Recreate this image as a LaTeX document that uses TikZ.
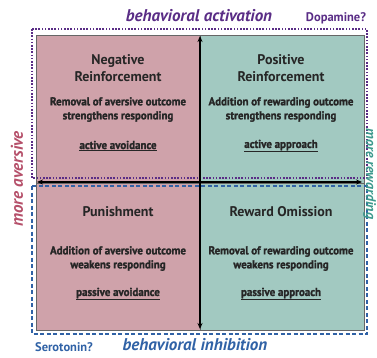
\documentclass[tikz,border=0pt]{standalone}
\usepackage{fontspec}
\setmainfont{PT Sans}
\newfontfamily\condbold[FakeStretch=0.95, FakeBold=1.6]{PT Sans Bold}
\usetikzlibrary{arrows.meta}
\definecolor{pinkq}{HTML}{CFA2AA}
\definecolor{greenq}{HTML}{A2C9C1}
\definecolor{purp}{HTML}{5A2D86}
\definecolor{bluec}{HTML}{3062A6}
\definecolor{avers}{HTML}{B5506A}
\definecolor{rewc}{HTML}{3E9A8E}
\tikzset{
  quad/.style={draw=black!60, line width=0.8pt, minimum width=164pt, minimum height=147.5pt, inner sep=0pt},
  ttl/.style={font=\bfseries\fontsize{14}{17}\selectfont, align=center, text=black!85},
  body/.style={font=\condbold\fontsize{11.5}{14}\selectfont, align=center, text=black!85},
  ul/.style={font=\condbold\fontsize{11.5}{13}\selectfont, text=black!85},
  arr/.style={line width=1.1pt, {Stealth[length=6pt,width=5pt]}-{Stealth[length=6pt,width=5pt]}},
  purpbox/.style={draw=purp, line width=1.8pt, dash pattern=on 1.6pt off 1.6pt},
  bluebox/.style={draw=bluec, line width=1.8pt, dash pattern=on 4pt off 2.5pt},
  biglab/.style={font=\bfseries\itshape\fontsize{17}{19}\selectfont},
  smalllab/.style={font=\bfseries\fontsize{12.5}{14}\selectfont},
}
\begin{document}
\begin{tikzpicture}[x=1pt,y=-1pt]
\useasboundingbox (0,0) rectangle (377,357);
% quadrants
\node[quad, fill=pinkq, anchor=north west] (nr) at (36,35) {};
\node[quad, fill=greenq, anchor=north west] (pr) at (200,35) {};
\node[quad, fill=pinkq, anchor=north west] (pu) at (36,182.5) {};
\node[quad, fill=greenq, anchor=north west] (ro) at (200,182.5) {};
% enclosing dashed boxes
\draw[purpbox] (32,29) rectangle (367,178);
\draw[bluebox] (32,186) rectangle (367,334);
% arrows
\coordinate (vt) at (200,36);
\coordinate (vb) at (200,329);
\coordinate (hl) at (37,182);
\coordinate (hr) at (362,182);
\draw[arr] (vb) -- (vt);
\draw[arr] (hl) -- (hr);
% top-left
\node[ttl] (t1) at (118,68) {Negative\\Reinforcement};
\node[body] (b1) at (118,109.5) {Removal of aversive outcome\\strengthens responding};
\node[ul] (u1) at (118,146) {\underline{active avoidance}};
% top-right
\node[ttl] (t2) at (281,68) {Positive\\Reinforcement};
\node[body] (b2) at (281,109.5) {Addition of rewarding outcome\\strengthens responding};
\node[ul] (u2) at (281,146) {\underline{active approach}};
% bottom-left
\node[ttl] (t3) at (118,212) {Punishment};
\node[body] (b3) at (118,258.5) {Addition of aversive outcome\\weakens responding};
\node[ul] (u3) at (118,294) {\underline{passive avoidance}};
% bottom-right
\node[ttl] (t4) at (281,212) {Reward Omission};
\node[body] (b4) at (281,258.5) {Removal of rewarding outcome\\weakens responding};
\node[ul] (u4) at (281,294) {\underline{passive approach}};
% outer labels
\node[biglab, text=purp] (ba) at (199,16) {behavioral activation};
\node[smalllab, text=purp] (da) at (336,18) {Dopamine?};
\node[biglab, text=bluec] (bi) at (195,345) {behavioral inhibition};
\node[smalllab, text=bluec] (se) at (64,347) {Serotonin?};
\node[biglab, text=avers, rotate=90] (ma) at (17,179) {more aversive};
\node[font=\bfseries\itshape\fontsize{14}{16}\selectfont, text=rewc, rotate=-90, anchor=base, inner sep=0pt] (mr) at (366,174) {more rewarding};
\end{tikzpicture}
\end{document}
